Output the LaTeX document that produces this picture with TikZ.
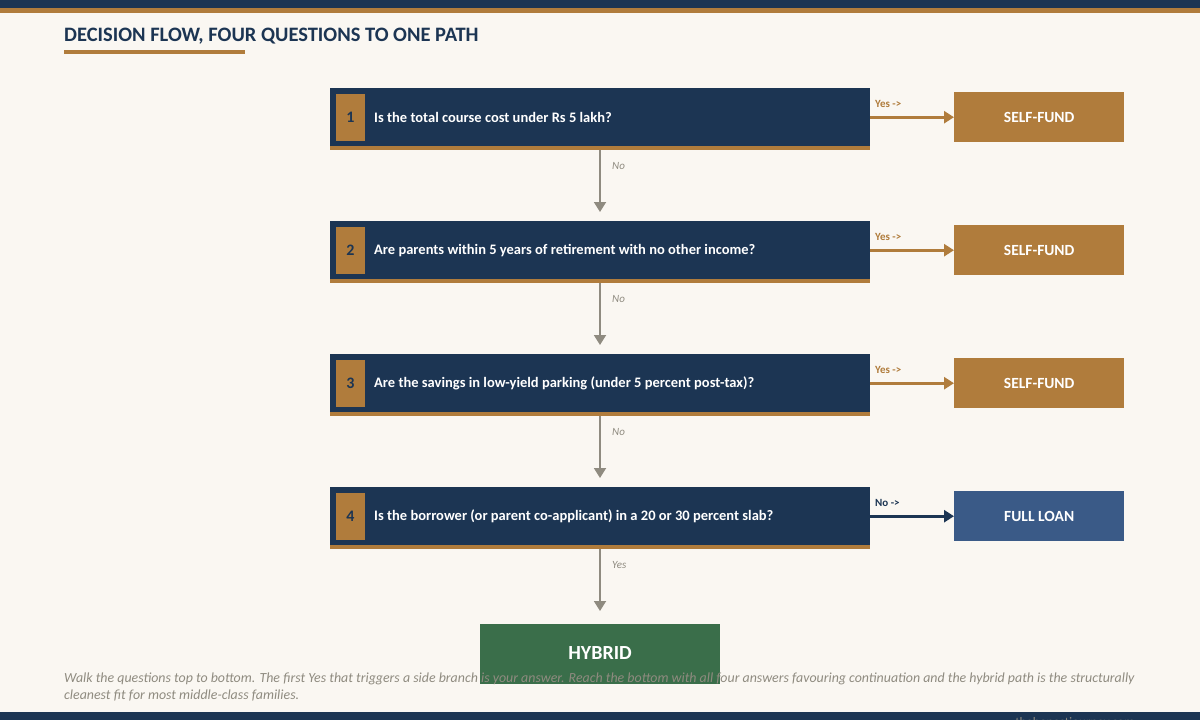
\documentclass[tikz,border=0pt]{standalone}
\usepackage{fontspec}
\setmainfont{Carlito}
\usetikzlibrary{arrows.meta}
\definecolor{navy}{HTML}{1C3553}
\definecolor{gold}{HTML}{B07C3C}
\definecolor{bg}{HTML}{FAF7F2}
\definecolor{lblue}{HTML}{3A5A87}
\definecolor{hgreen}{HTML}{3A6E4A}
\definecolor{greyc}{HTML}{8F8B80}
\tikzset{
  qbox/.style={fill=navy,draw=none,minimum width=540pt,minimum height=58pt,inner sep=0pt,anchor=north west},
  numbox/.style={fill=gold,minimum width=29pt,minimum height=47pt,inner sep=0pt,text=navy,font=\fontsize{16}{18}\selectfont\bfseries},
  qtext/.style={text=white,font=\fontsize{14.5}{17}\selectfont\bfseries,anchor=west,inner sep=0pt},
  rbox/.style={minimum width=170pt,minimum height=50pt,inner sep=0pt,text=white,font=\fontsize{15.5}{17}\selectfont\bfseries,anchor=north west},
  sidearrow/.style={line width=3pt,-{Triangle[length=10pt,width=12pt]}},
  downarrow/.style={greyc,line width=1.8pt,-{Triangle[length=10pt,width=12pt]}},
  sidelbl/.style={font=\fontsize{11}{12}\selectfont\bfseries,anchor=west,inner sep=0pt},
  downlbl/.style={text=greyc,font=\fontsize{11}{12}\selectfont\itshape,anchor=west,inner sep=0pt}
}
\begin{document}
\begin{tikzpicture}[x=1pt,y=-1pt]
\useasboundingbox (0,0) rectangle (1200,720);
\clip (0,0) rectangle (1200,720);
\fill[bg] (0,0) rectangle (1200,720);
\fill[navy] (0,0) rectangle (1200,8);
\fill[gold] (0,8) rectangle (1200,13);
\node[anchor=base west,inner sep=0pt,text=navy,font=\fontsize{20.5}{22}\selectfont\bfseries] (title) at (64,41) {DECISION FLOW, FOUR QUESTIONS TO ONE PATH};
\fill[gold] (64,50) rectangle (245,54);
\foreach \i/\y/\q/\res/\col/\lbl/\lc/\dl in {
 1/88/{Is the total course cost under Rs 5 lakh?}/SELF-FUND/gold/{Yes ->}/gold/No,
 2/221/{Are parents within 5 years of retirement with no other income?}/SELF-FUND/gold/{Yes ->}/gold/No,
 3/354/{Are the savings in low-yield parking (under 5 percent post-tax)?}/SELF-FUND/gold/{Yes ->}/gold/No,
 4/487/{Is the borrower (or parent co-applicant) in a 20 or 30 percent slab?}/FULL LOAN/lblue/{No ->}/navy/Yes}{
  \node[qbox] (q\i) at (330,\y) {};
  \fill[gold] (330,\y+58) rectangle (870,\y+62);
  \node[numbox] (n\i) at (350.5,\y+29.5) {\i};
  \node[qtext] (t\i) at (374,\y+29.5) {\q};
  \node[rbox,fill=\col] (r\i) at (954,\y+4) {\res};
  \draw[sidearrow,\lc] (q\i.east |- r\i.west) -- (r\i.west);
  \node[sidelbl,text=\lc] (l\i) at (875,\y+15.5) {\lbl};
  \coordinate (b\i) at (600,\y+62);
  \coordinate (e\i) at (600,\y+124);
  \draw[downarrow] (b\i) -- (e\i);
  \node[downlbl] (d\i) at (612,\y+78) {\dl};
}
\node[fill=hgreen,minimum width=240pt,minimum height=60pt,inner sep=0pt,anchor=north west] (hyb) at (480,624) {};
\node[text=white,font=\fontsize{20}{22}\selectfont\bfseries,inner sep=0pt] (hybt) at (600,653) {HYBRID};
\node[anchor=north west,inner sep=0pt,text=greyc,font=\fontsize{13.9}{17}\selectfont\itshape,align=left] (cap) at (64,673) {Walk the questions top to bottom. The first Yes that triggers a side branch is your answer. Reach the bottom with all four answers favouring continuation and the hybrid path is the structurally\\cleanest fit for most middle-class families.};
\fill[navy] (0,712) rectangle (1200,720);
\node[anchor=base,inner sep=0pt,text=greyc,font=\fontsize{13}{14}\selectfont] (foot) at (1075,726) {thehonestjourney.com};
\end{tikzpicture}
\end{document}
